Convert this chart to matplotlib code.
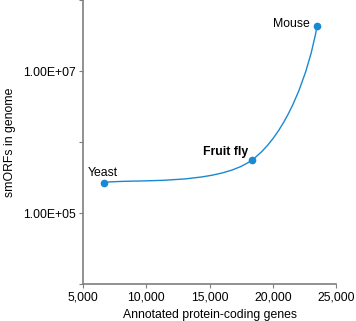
import numpy as np
import matplotlib.pyplot as plt
from matplotlib.path import Path
from matplotlib.patches import PathPatch

plt.rcParams['font.family'] = ['Liberation Sans', 'DejaVu Sans']

# data
species = ['Yeast', 'Fruit fly', 'Mouse']
genes = [6700, 18350, 23500]
smorfs = [2.7e5, 5.6e5, 4.4e7]

blue = '#1a88d2'
grey = '#7f7f7f'
fs = 8.8

fig = plt.figure(figsize=(3.56, 3.21), dpi=100)
ax = fig.add_axes([0.233, 0.115, 0.711, 0.884])
ax.set_yscale('log')
ax.set_xlim(5000, 25000)
ax.set_ylim(1e4, 1e8)

# smooth line (excel-style) : bezier through the points, built in display space
fig.canvas.draw()
pts = ax.transData.transform(np.column_stack([genes, smorfs]))
n = len(pts)
verts = [pts[0]]
codes = [Path.MOVETO]
for i in range(n - 1):
    p0 = pts[i - 1] if i > 0 else pts[i]
    p1 = pts[i]
    p2 = pts[i + 1]
    c1 = p1 + (p2 - p0) / 6
    if i + 2 < n:
        c2 = p2 - (pts[i + 2] - p1) / 6
    else:
        d = p2 - p1
        c2 = p2 - np.array([0.12 * d[0], 0.34 * d[1]])  # steep end like the original
    verts += [c1, c2, p2]
    codes += [Path.CURVE4] * 3
path = Path(verts, codes)
ax.add_patch(PathPatch(path, transform=None, fc='none', ec=blue, lw=1.0, clip_on=False))

ax.plot(genes, smorfs, 'o', color=blue, ms=4.5, zorder=3)

ax.text(genes[0] - 1300, smorfs[0] * 1.12, species[0], fontsize=fs, va='bottom', ha='left')
ax.text(genes[1] - 250, smorfs[1] * 1.08, species[1], fontsize=fs, va='bottom', ha='right',
        fontweight='bold')
ax.text(genes[2] - 550, smorfs[2] * 1.05, species[2], fontsize=fs, va='center', ha='right')

ax.set_xticks([5000, 10000, 15000, 20000, 25000])
ax.set_xticklabels(['5,000', '10,000', '15,000', '20,000', '25,000'])
ax.set_yticks([1e4, 1e5, 1e6, 1e7, 1e8])
ax.set_yticklabels(['', '1.00E+05', '', '1.00E+07', ''])
ax.minorticks_off()
ax.tick_params(labelsize=fs, length=3, width=0.8, color=grey, direction='out', pad=2)

for s in ['top', 'right']:
    ax.spines[s].set_visible(False)
for s in ['left', 'bottom']:
    ax.spines[s].set_color(grey)
    ax.spines[s].set_linewidth(1.2)

ax.set_xlabel('Annotated protein-coding genes', fontsize=fs, labelpad=4)
ax.set_ylabel('smORFs in genome', fontsize=fs, labelpad=5)

fig.savefig('out.png', dpi=100)
